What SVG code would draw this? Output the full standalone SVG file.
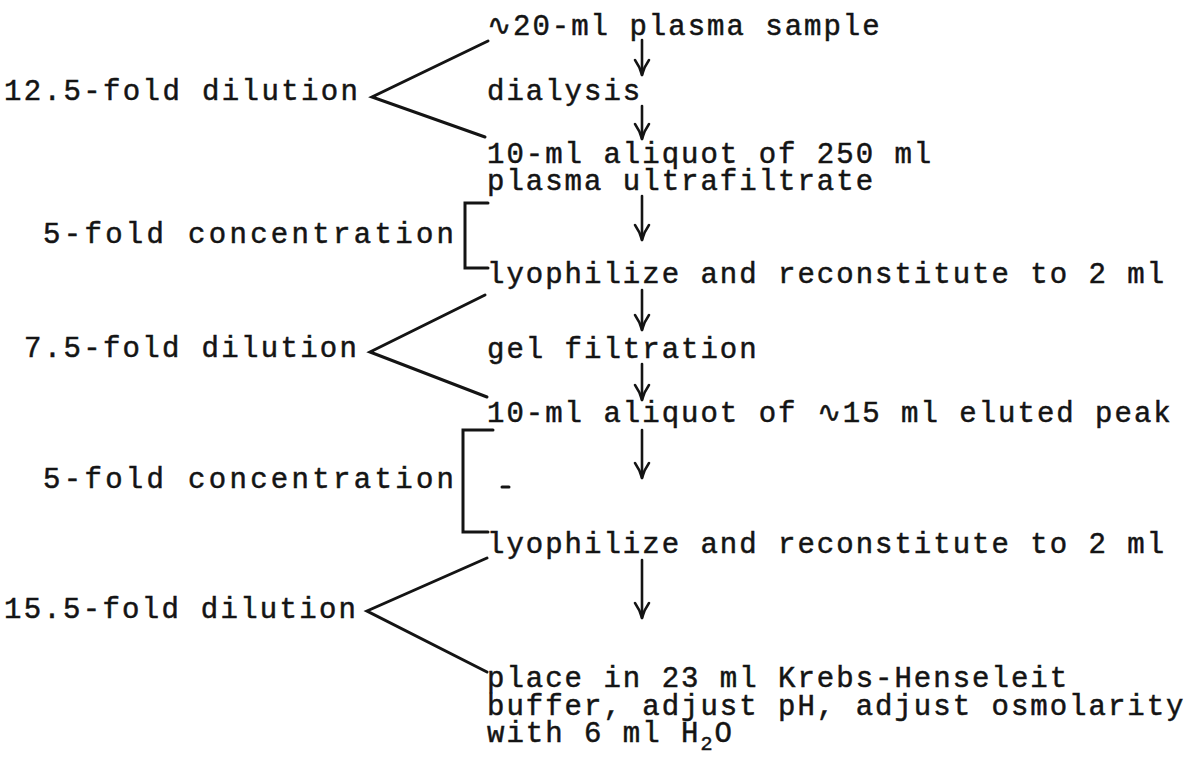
<svg xmlns="http://www.w3.org/2000/svg" width="1199" height="763" viewBox="0 0 1199 763">
  <style>
    text { font-family: "Liberation Mono", "DejaVu Sans Mono", monospace; font-size: 29px; letter-spacing: 2px; fill: #141414; stroke: #141414; stroke-width: 0.5px; }
    .ln { fill: none; stroke: #141414; stroke-width: 3; stroke-linecap: round; stroke-linejoin: miter; }
    .ar { fill: none; stroke: #141414; stroke-width: 2.6; stroke-linecap: round; stroke-linejoin: round; }
  </style>
  <defs>
    <path id="head" d="M-7,-15 Q-2,-8 0,0 Q2,-8 7,-15" class="ar"/>
  </defs>

  <!-- process steps (right column) -->
  <g id="step-sample"><text x="487" y="35">∿20-ml plasma sample</text></g>
  <g id="step-dialysis"><text x="487" y="100">dialysis</text></g>
  <g id="step-aliquot1"><text x="487" y="163">10-ml aliquot of 250 ml</text><text x="487" y="190">plasma ultrafiltrate</text></g>
  <g id="step-lyophilize1"><text x="487" y="283">lyophilize and reconstitute to 2 ml</text></g>
  <g id="step-gel"><text x="487" y="358">gel filtration</text></g>
  <g id="step-aliquot2"><text x="487" y="422">10-ml aliquot of ∿15 ml eluted peak</text></g>
  <g id="step-lyophilize2"><text x="487" y="553">lyophilize and reconstitute to 2 ml</text></g>
  <g id="step-buffer">
    <text x="487" y="687">place in 23 ml Krebs-Henseleit</text>
    <text x="487" y="715">buffer, adjust pH, adjust osmolarity</text>
    <text x="487" y="742">with 6 ml H<tspan dy="8" font-size="20">2</tspan><tspan dy="-8">O</tspan></text>
  </g>

  <!-- dilution / concentration factors (left column) -->
  <g id="factor-dilution1"><text x="4" y="100" textLength="356" lengthAdjust="spacing">12.5-fold dilution</text></g>
  <g id="factor-conc1"><text x="43" y="243" textLength="413" lengthAdjust="spacing">5-fold concentration</text></g>
  <g id="factor-dilution2"><text x="24" y="357" textLength="335" lengthAdjust="spacing">7.5-fold dilution</text></g>
  <g id="factor-conc2"><text x="43" y="488" textLength="413" lengthAdjust="spacing">5-fold concentration</text></g>
  <g id="factor-dilution3"><text x="4" y="618" textLength="354" lengthAdjust="spacing">15.5-fold dilution</text></g>

  <!-- connectors: step arrows, dilution wedges, concentration brackets -->
  <g id="connectors">
    <path class="ar" d="M642,40 V75"/><use href="#head" x="642" y="75"/>
    <path class="ar" d="M642,106 V139"/><use href="#head" x="642" y="139"/>
    <path class="ar" d="M642,196 V240"/><use href="#head" x="642" y="240"/>
    <path class="ar" d="M642,290 V330"/><use href="#head" x="642" y="330"/>
    <path class="ar" d="M642,364 V400"/><use href="#head" x="642" y="400"/>
    <path class="ar" d="M642,430 V478"/><use href="#head" x="642" y="478"/>
    <path class="ar" d="M642,560 V618"/><use href="#head" x="642" y="618"/>

    <path class="ln" d="M488,41 L372,97 L485,137"/>
    <path class="ln" d="M485,295 L370,352 L487,397"/>
    <path class="ln" d="M487,558 L367,611 L487,672"/>

    <path class="ln" d="M488,203 H465 V268 H488"/>
    <path class="ln" d="M493,430 H463 V532 H488"/>
    <path class="ln" d="M502,487 H509" stroke-width="2"/>
  </g>
</svg>
